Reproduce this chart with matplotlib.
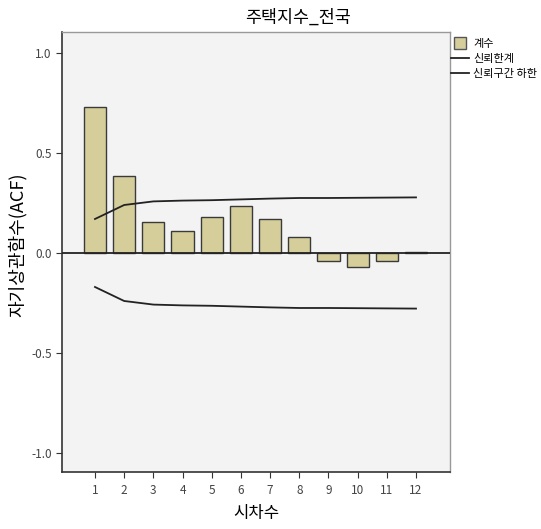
import matplotlib.pyplot as plt
from matplotlib.lines import Line2D

plt.rcParams['font.family'] = ['Noto Sans CJK KR', 'DejaVu Sans']

lags = [1, 2, 3, 4, 5, 6, 7, 8, 9, 10, 11, 12]
acf = [0.732, 0.383, 0.153, 0.111, 0.178, 0.235, 0.171, 0.080,
       -0.040, -0.069, -0.040, 0.005]
upper = [0.170, 0.240, 0.258, 0.262, 0.264, 0.268, 0.272, 0.275,
         0.275, 0.276, 0.277, 0.278]
lower = [-u for u in upper]

fig = plt.figure(figsize=(5.41, 5.29), dpi=100)
ax = fig.add_axes([0.1146, 0.1078, 0.7172, 0.8317])
ax.set_facecolor('#f3f3f3')

ax.bar(lags, acf, width=0.76, color='#d5ce9b', edgecolor='#3a3a3a', linewidth=1.0, zorder=2)
ax.plot(lags, upper, color='#222222', linewidth=1.3, zorder=3)
ax.plot(lags, lower, color='#222222', linewidth=1.3, zorder=3)
ax.axhline(0, color='#222222', linewidth=1.3, zorder=3)

ax.set_xlim(-0.13, 13.165)
ax.set_ylim(-1.095, 1.105)
ax.set_xticks(lags)
ax.set_yticks([1.0, 0.5, 0.0, -0.5, -1.0])
ax.set_yticklabels(['1.0', '0.5', '0.0', '-0.5', '-1.0'])
ax.tick_params(axis='both', labelsize=8.5, labelcolor='#444444', color='#333333', length=4, direction='out')
ax.tick_params(axis='x', pad=5)

for s in ['left', 'bottom']:
    ax.spines[s].set_color('#333333')
    ax.spines[s].set_linewidth(1.2)
for s in ['top', 'right']:
    ax.spines[s].set_color('#999999')
    ax.spines[s].set_linewidth(1.0)

ax.set_title('주택지수_전국', fontsize=12.5, x=0.608, pad=7)
ax.set_xlabel('시차수', fontsize=12)
ax.xaxis.set_label_coords(0.5, -0.075)
ax.set_ylabel('자기상관함수(ACF)', fontsize=13)
ax.yaxis.set_label_coords(-0.09, 0.516)

# legend: square swatch for the bars, plain lines for the limits
handles = [Line2D([0], [0], marker='s', linestyle='none', markersize=8,
                  markerfacecolor='#d5ce9b', markeredgecolor='#555555'),
           Line2D([0], [0], color='#222222', linewidth=1.3),
           Line2D([0], [0], color='#222222', linewidth=1.3)]
fig.legend(handles, ['계수', '신뢰한계', '신뢰구간 하한'], loc='upper left',
           bbox_to_anchor=(0.826, 0.935), frameon=False, fontsize=8,
           handlelength=1.6, handletextpad=0.35, labelspacing=0.45, borderaxespad=0)

fig.savefig('out.png', dpi=100)
